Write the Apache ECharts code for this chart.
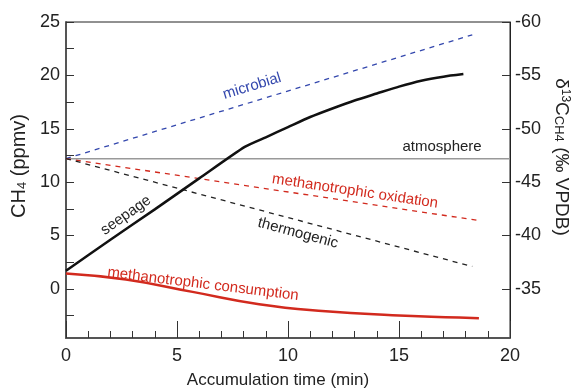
<!DOCTYPE html>
<html><head><meta charset="utf-8">
<script src="https://cdn.jsdelivr.net/npm/echarts@6/dist/echarts.min.js"></script>
<style>html,body{margin:0;padding:0;background:#fff}#c{width:572px;height:390px}</style>
</head><body><div id="c"></div>
<script>
// x: accumulation time (min), y: CH4 (ppmv) on the left axis scale
const xTicks = [0, 5, 10, 15, 20];
const leftLabels = [0, 5, 10, 15, 20, 25];
const leftTicks = [-2.5, 0, 2.5, 5, 7.5, 10, 12.5, 15, 17.5, 20, 22.5, 25];
const rightLabels = [-60, -55, -50, -45, -40, -35];

const atmosphere = [[0, 12.2], [20, 12.2]];
const microbial = [[0, 12.2], [18.3, 23.8]];
const oxidation = [[0, 12.2], [18.6, 6.4]];
const thermogenic = [[0, 12.2], [18.3, 2.1]];

const seepageTime = [0, 2, 4, 6, 8.05, 9, 10, 11, 12, 13, 14, 15, 16, 17, 17.9];
const seepageCH4 = [1.7, 4.6, 7.45, 10.35, 13.3, 14.2, 15.15, 16.1, 16.9, 17.65, 18.3, 18.95, 19.5, 19.88, 20.12];

const consumptionTime = [0, 2.7, 5.7, 8.7, 11.7, 14.7, 17.7, 18.6];
const consumptionCH4 = [1.45, 0.88, -0.28, -1.43, -2.09, -2.46, -2.68, -2.75];

const annotations = [
  {text: 'microbial', x: 8.38, y: 18.98, rot: 17, color: '#3347ad'},
  {text: 'atmosphere', x: 16.94, y: 13.28, rot: 0, color: '#222'},
  {text: 'methanotrophic oxidation', x: 13.02, y: 9.14, rot: -8.5, color: '#d22a1e'},
  {text: 'thermogenic', x: 10.45, y: 5.22, rot: -15, color: '#222'},
  {text: 'seepage', x: 2.7, y: 6.9, rot: 35, color: '#222'},
  {text: 'methanotrophic consumption', x: 6.17, y: 0.44, rot: -7, color: '#d22a1e'}
];

const FONT = '"Liberation Sans", Arial, sans-serif';
const zip = (a, b) => a.map((v, i) => [v, b[i]]);

const chart = echarts.init(document.getElementById('c'));
const option = {
  animation: false,
  backgroundColor: '#fff',
  grid: {left: 66, right: 62, top: 22, bottom: 52, outerBoundsMode: 'none', containLabel: false, show: true, borderColor: '#222', borderWidth: 1, backgroundColor: 'transparent'},
  xAxis: {
    type: 'value', min: 0, max: 20, interval: 5,
    name: 'Accumulation time (min)', nameLocation: 'middle', nameGap: 34,
    nameTextStyle: {fontFamily: FONT, fontSize: 17, color: '#222', padding: [0, 20, 0, 0]},
    axisLine: {show: true, onZero: false, lineStyle: {color: '#555', width: 2}},
    axisTick: {show: true, inside: true, length: 17, lineStyle: {color: '#333', width: 1}},
    minorTick: {show: true, splitNumber: 5, length: 7, lineStyle: {color: '#333', width: 1}},
    axisLabel: {fontFamily: FONT, fontSize: 18, color: '#222', margin: 9},
    splitLine: {show: false}
  },
  yAxis: [{
    type: 'value', min: -4.6, max: 25, position: 'left',
    name: '{m|CH}{s|4}{m| (ppmv)}', nameLocation: 'middle', nameGap: 33,
    nameTextStyle: {fontFamily: FONT, color: '#222', padding: [0, 0, 0, 28],
      rich: {m: {fontFamily: FONT, fontSize: 20, color: '#222'}, s: {fontFamily: FONT, fontSize: 13, color: '#222', verticalAlign: 'bottom'}}},
    axisLine: {show: true, onZero: false, lineStyle: {color: '#555', width: 2}},
    axisTick: {show: true, inside: true, length: 8, customValues: leftTicks, lineStyle: {color: '#333'}},
    axisLabel: {fontFamily: FONT, fontSize: 18, color: '#222', margin: 6, customValues: leftLabels},
    splitLine: {show: false}
  }, {
    type: 'value', min: -60, max: -30.4, inverse: true, position: 'right',
    name: '{m|δ}{sup|13}{m|C}{s|CH4}{m| (‰ VPDB)}', nameLocation: 'middle', nameGap: 41, nameRotate: -90,
    nameTextStyle: {fontFamily: FONT, color: '#222', padding: [0, 46, 0, 0],
      rich: {m: {fontFamily: FONT, fontSize: 19, color: '#222'}, s: {fontFamily: FONT, fontSize: 13, color: '#222', verticalAlign: 'bottom'}, sup: {fontFamily: FONT, fontSize: 12, color: '#222', verticalAlign: 'top'}}},
    axisLine: {show: true, onZero: false, lineStyle: {color: '#222', width: 1}},
    axisTick: {show: true, inside: true, length: 8, customValues: rightLabels, lineStyle: {color: '#333'}},
    axisLabel: {fontFamily: FONT, fontSize: 18, color: '#222', margin: 5, customValues: rightLabels},
    splitLine: {show: false}
  }],
  series: [
    {name: 'atmosphere', type: 'line', data: atmosphere, showSymbol: false, lineStyle: {color: '#999', width: 1.5}},
    {name: 'microbial', type: 'line', data: microbial, showSymbol: false, lineStyle: {color: '#3347ad', width: 1.3, type: [5, 5]}},
    {name: 'methanotrophic oxidation', type: 'line', data: oxidation, showSymbol: false, lineStyle: {color: '#d22a1e', width: 1.3, type: [5, 5]}},
    {name: 'thermogenic', type: 'line', data: thermogenic, showSymbol: false, lineStyle: {color: '#222', width: 1.3, type: [5, 5]}},
    {name: 'seepage', type: 'line', data: zip(seepageTime, seepageCH4), showSymbol: false, smooth: 0.2, lineStyle: {color: '#111', width: 2.5}},
    {name: 'methanotrophic consumption', type: 'line', data: zip(consumptionTime, consumptionCH4), showSymbol: false, smooth: true, lineStyle: {color: '#d22a1e', width: 2.5}}
  ]
};
chart.setOption(option);

const graphics = annotations.map(a => {
  const p = chart.convertToPixel({xAxisIndex: 0, yAxisIndex: 0}, [a.x, a.y]);
  return {
    type: 'text', x: p[0], y: p[1], rotation: a.rot * Math.PI / 180,
    style: {text: a.text, fill: a.color, font: '15px ' + FONT, align: 'center', verticalAlign: 'middle'}
  };
});
chart.setOption({graphic: graphics});
</script></body></html>
